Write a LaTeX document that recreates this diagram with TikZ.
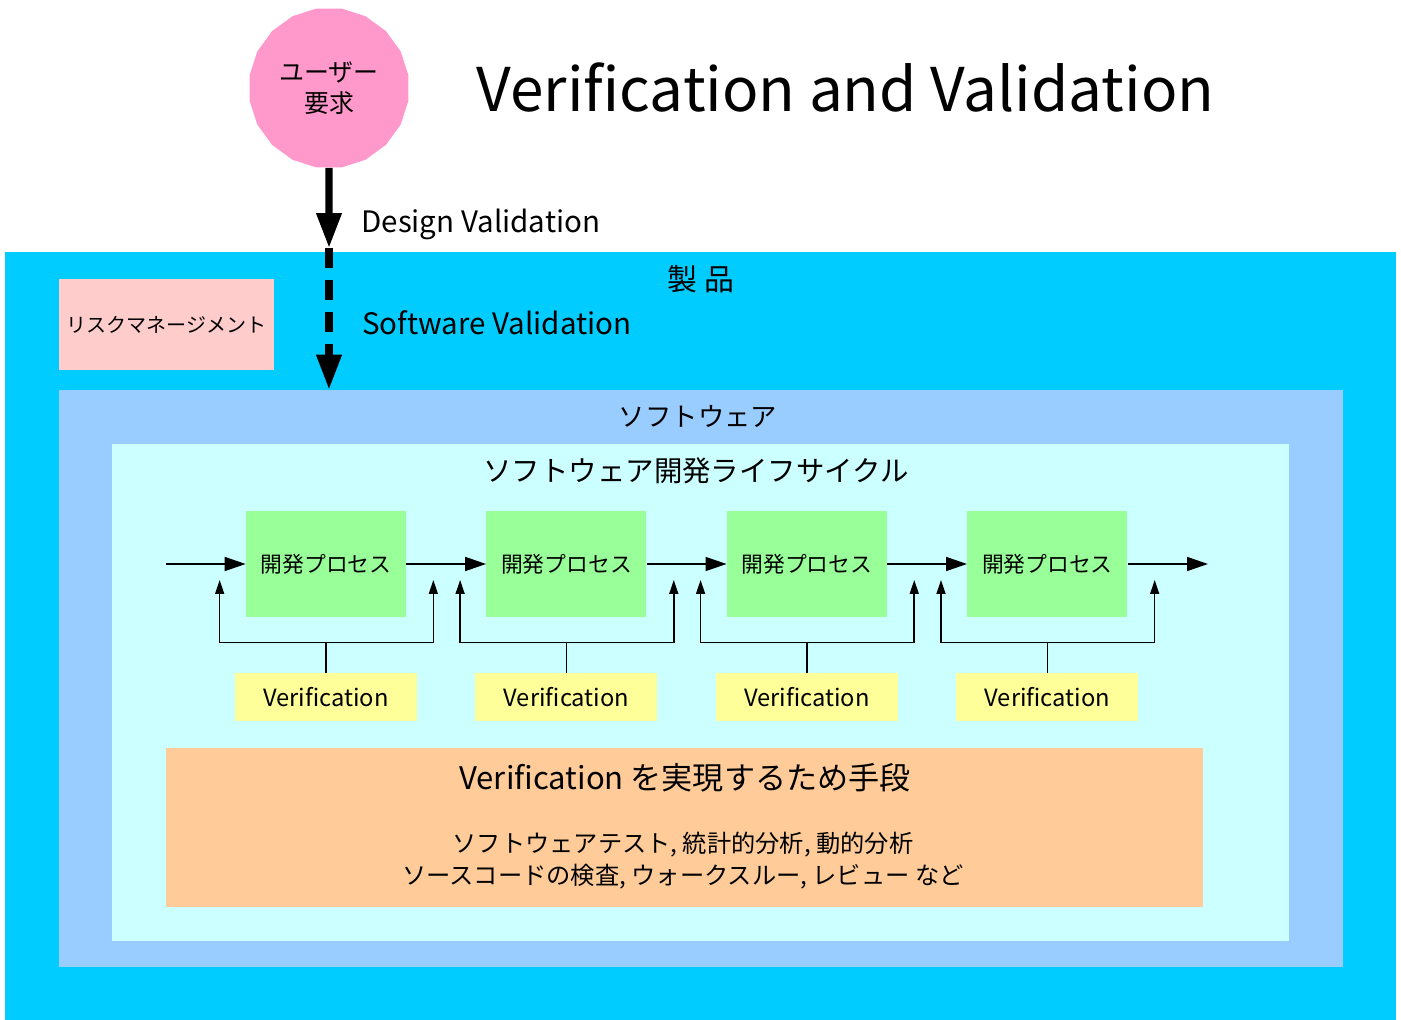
\documentclass[tikz,border=0pt]{standalone}
\usepackage{fontspec}
\setmainfont{Noto Sans CJK JP}
\usepackage{xcolor}
\usepackage{tikz}
\usetikzlibrary{arrows.meta,shapes.geometric}

\definecolor{productblue}{HTML}{00CCFF}
\definecolor{swblue}{HTML}{99CCFF}
\definecolor{sdlccyan}{HTML}{CCFFFF}
\definecolor{procgreen}{HTML}{99FF99}
\definecolor{vfyyellow}{HTML}{FFFF99}
\definecolor{meansorange}{HTML}{FFCC99}
\definecolor{riskpink}{HTML}{FFCCCC}
\definecolor{userpink}{HTML}{FF99CC}

\begin{document}
\begin{tikzpicture}[x=0.02cm, y=0.02cm, node distance=4.81cm,
    area/.style={rectangle, inner sep=0pt},
    lbl/.style={inner sep=0pt},
    proc/.style={rectangle, fill=procgreen, minimum width=3.2cm, minimum height=2.12cm, font=\fontsize{12.4}{14}\selectfont},
    vfy/.style={rectangle, fill=vfyyellow, minimum width=3.64cm, minimum height=0.96cm, font=\fontsize{13.5}{16}\selectfont},
    flow/.style={-{Triangle[length=0.42cm,width=0.28cm]}, line width=0.9pt},
    check/.style={-{Triangle[length=0.28cm,width=0.18cm]}, line width=0.9pt},
    valid/.style={line width=4pt, -{Triangle[length=0.7cm,width=0.48cm]}}]
    \useasboundingbox (0,0) rectangle (1401,-1020);

    % nested areas
    \node (product) [area, fill=productblue, minimum width=27.82cm, minimum height=15.36cm] at (700.5,-636) {};
    \node (risk) [area, fill=riskpink, minimum width=4.3cm, minimum height=1.82cm, font=\fontsize{11.4}{13}\selectfont] at (166.5,-324.5) {リスクマネージメント};
    \node (sw) [area, fill=swblue, minimum width=25.68cm, minimum height=11.54cm] at (701,-678.5) {};
    \node (sdlc) [area, fill=sdlccyan, minimum width=23.54cm, minimum height=9.94cm] at (700.5,-692.5) {};
    \node (means) [area, fill=meansorange, minimum width=20.74cm, minimum height=3.18cm] at (684.5,-827.5) {};

    \node (productlbl) [lbl, font=\fontsize{17}{20}\selectfont] at (701,-279) {製 品};
    \node (swlbl) [lbl, font=\fontsize{15}{18}\selectfont] at (698,-416) {ソフトウェア};
    \node (sdlclbl) [lbl, font=\fontsize{16.2}{19}\selectfont] at (696,-471) {ソフトウェア開発ライフサイクル};

    % title and user requirements
    \node (title) [lbl, font=\fontsize{34.3}{40}\selectfont] at (845.5,-88) {Verification and Validation};
    \node (user) [regular polygon, regular polygon sides=20, fill=userpink, minimum size=3.22cm, inner sep=0pt, align=center, font=\fontsize{14.2}{18}\selectfont] at (329,-88) {ユーザー\\要求};

    \coordinate (dv) at (329,-248);
    \draw [valid] (user) -- (dv);
    \draw [valid, dash pattern=on 0.4cm off 0.24cm] (dv) -- (dv |- sw.north);
    \node (dvlbl) [lbl, anchor=west, font=\fontsize{16.8}{19}\selectfont] at (361,-224) {Design Validation};
    \node (svlbl) [lbl, anchor=west, font=\fontsize{16.8}{19}\selectfont] at (362,-323) {Software Validation};

    % development processes
    \node (p1) [proc] at (326,-564) {開発プロセス};
    \node (p2) [proc, right of=p1] {開発プロセス};
    \node (p3) [proc, right of=p2] {開発プロセス};
    \node (p4) [proc, right of=p3] {開発プロセス};

    \coordinate (in) at (166,-564);
    \coordinate (out) at (1208,-564);
    \draw [flow] (in) -- (p1);
    \draw [flow] (p1) -- (p2);
    \draw [flow] (p2) -- (p3);
    \draw [flow] (p3) -- (p4);
    \draw [flow] (p4) -- (out);

    % verification of each process
    \node (v1) [vfy, below of=p1, node distance=2.66cm] {Verification};
    \node (v2) [vfy, below of=p2, node distance=2.66cm] {Verification};
    \node (v3) [vfy, below of=p3, node distance=2.66cm] {Verification};
    \node (v4) [vfy, below of=p4, node distance=2.66cm] {Verification};

    \draw [line width=0.9pt] (v1.north) -- ++(0,30) coordinate (j1);
    \draw [check] (j1) -| ([shift={(-26,-16)}]p1.west);
    \draw [check] (j1) -| ([shift={(27,-16)}]p1.east);
    \draw [line width=0.9pt] (v2.north) -- ++(0,30) coordinate (j2);
    \draw [check] (j2) -| ([shift={(-26,-16)}]p2.west);
    \draw [check] (j2) -| ([shift={(27,-16)}]p2.east);
    \draw [line width=0.9pt] (v3.north) -- ++(0,30) coordinate (j3);
    \draw [check] (j3) -| ([shift={(-26,-16)}]p3.west);
    \draw [check] (j3) -| ([shift={(27,-16)}]p3.east);
    \draw [line width=0.9pt] (v4.north) -- ++(0,30) coordinate (j4);
    \draw [check] (j4) -| ([shift={(-26,-16)}]p4.west);
    \draw [check] (j4) -| ([shift={(27,-16)}]p4.east);

    % means of verification
    \node (meanstitle) [lbl, font=\fontsize{17.7}{20}\selectfont] at (685,-778) {Verification を実現するため手段};
    \node (meanslist) [lbl, align=center, font=\fontsize{13.8}{18.2}\selectfont] at (683,-861) {ソフトウェアテスト, 統計的分析, 動的分析\\ソースコードの検査, ウォークスルー, レビュー など};
\end{tikzpicture}
\end{document}
